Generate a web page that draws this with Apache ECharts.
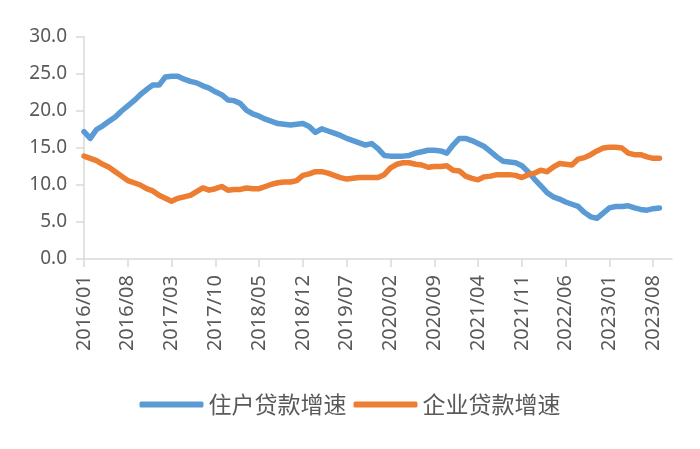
<!DOCTYPE html>
<html><head><meta charset="utf-8">
<script src="https://cdn.jsdelivr.net/npm/echarts@6/dist/echarts.min.js"></script>
<style>html,body{margin:0;padding:0;background:#fff}#c{width:700px;height:449px}</style>
</head><body><div id="c"></div>
<script>
// categories: monthly 2016/01 .. 2023/11
const startYear = 2016, monthsCount = 95;
const categories = [];
for (let k = 0; k < monthsCount; k++) {
  const y = startYear + Math.floor(k / 12), m = (k % 12) + 1;
  categories.push(y + '/' + (m < 10 ? '0' + m : m));
}
const householdLoanGrowth = [17.2,16.3,17.5,18.0,18.6,19.2,20.0,20.7,21.4,22.2,22.9,23.5,23.5,24.6,24.7,24.7,24.3,24.0,23.8,23.4,
23.1,22.6,22.2,21.5,21.4,21.0,20.1,19.6,19.3,18.9,18.6,18.3,18.2,18.1,18.2,18.3,17.9,17.1,17.6,17.3,
17.0,16.7,16.3,16.0,15.7,15.4,15.6,14.9,14.0,13.9,13.9,13.9,14.0,14.3,14.5,14.7,14.7,14.6,14.3,15.4,
16.3,16.3,16.0,15.6,15.2,14.5,13.8,13.2,13.1,13.0,12.6,11.8,10.8,9.9,9.0,8.4,8.1,7.7,7.4,7.1,
6.3,5.7,5.5,6.2,6.9,7.1,7.1,7.2,6.9,6.7,6.6,6.8,6.9];
const corporateLoanGrowth = [13.9,13.6,13.3,12.8,12.4,11.8,11.2,10.6,10.3,10.0,9.5,9.2,8.6,8.2,7.8,8.2,8.4,8.6,9.1,9.6,
9.3,9.5,9.8,9.3,9.4,9.4,9.6,9.5,9.5,9.8,10.1,10.3,10.4,10.4,10.6,11.3,11.5,11.8,11.8,11.6,
11.3,11.0,10.8,10.9,11.0,11.0,11.0,11.0,11.4,12.3,12.8,13.0,13.0,12.8,12.7,12.4,12.5,12.5,12.6,12.0,
11.9,11.2,10.9,10.7,11.1,11.2,11.4,11.4,11.4,11.3,11.0,11.4,11.6,12.0,11.8,12.4,12.9,12.8,12.7,13.5,
13.7,14.1,14.6,15.0,15.1,15.1,15.0,14.3,14.1,14.1,13.8,13.6,13.6];
const seriesNames = ['住户贷款增速', '企业贷款增速'];
const yTicks = {min: 0, max: 30, interval: 5};

const chart = echarts.init(document.getElementById('c'));
const font = '"Noto Sans CJK SC", "Noto Sans", sans-serif';
chart.setOption({
  animation: false,
  color: ['#5B9BD5', '#ED7D31'],
  grid: {left: 84, right: 28, top: 37, bottom: 190, containLabel: false},
  legend: {
    data: seriesNames, top: 388, left: 'center', icon: 'roundRect',
    itemWidth: 64, itemHeight: 6, itemGap: 7,
    textStyle: {fontSize: 23, color: '#595959', fontFamily: font}
  },
  xAxis: {
    type: 'category', data: categories, boundaryGap: false,
    axisLine: {lineStyle: {color: '#D9D9D9', width: 1.5}},
    axisTick: {show: true, interval: 6, length: 8, lineStyle: {color: '#D9D9D9', width: 1.5}},
    axisLabel: {interval: 6, rotate: 90, fontSize: 20, color: '#595959', margin: 16, fontFamily: '"Noto Sans", sans-serif'}
  },
  yAxis: {
    type: 'value', min: yTicks.min, max: yTicks.max, interval: yTicks.interval,
    axisLine: {show: true, lineStyle: {color: '#D9D9D9', width: 1.5}},
    axisTick: {show: true, length: 8, lineStyle: {color: '#D9D9D9', width: 1.5}},
    splitLine: {show: false},
    axisLabel: {fontSize: 19, color: '#595959', margin: 17, fontFamily: '"Noto Sans", sans-serif', formatter: v => v.toFixed(1)}
  },
  series: [
    {name: seriesNames[0], type: 'line', data: householdLoanGrowth, showSymbol: false, symbol: 'none',
     lineStyle: {width: 5.5, cap: 'round', join: 'round'}},
    {name: seriesNames[1], type: 'line', data: corporateLoanGrowth, showSymbol: false, symbol: 'none',
     lineStyle: {width: 5.5, cap: 'round', join: 'round'}}
  ]
});
</script></body></html>
